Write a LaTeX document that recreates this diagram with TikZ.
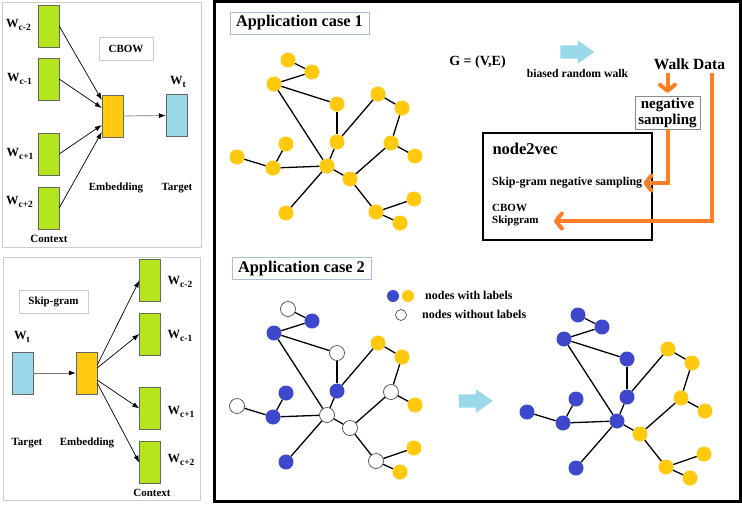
\documentclass[tikz,border=0pt]{standalone}
\usepackage{fontspec}
\setmainfont{Liberation Serif}
\usetikzlibrary{arrows.meta,shapes.arrows}

\definecolor{nodegold}{RGB}{255,201,14}
\definecolor{nodeblue}{RGB}{63,72,204}
\definecolor{wordgreen}{RGB}{181,230,29}
\definecolor{skyblue}{RGB}{153,217,234}
\definecolor{walkorange}{RGB}{255,127,39}
\definecolor{panelgray}{RGB}{205,205,205}
\definecolor{tagblue}{RGB}{170,190,215}

\newcommand\wsub[1]{W\raisebox{-2.5pt}{\fontsize{9.5}{9.5}\selectfont#1}}
\newcommand\graphnodes{1/288/60,2/312/72,3/274/84,4/337/104,5/378/94,6/402/108,7/337/142,8/391/143,9/415/156,10/286/144,11/237/157,12/273/168,13/327/166,14/350/179,15/286/213,16/376/212,17/414/199,18/400/223}
\newcommand\graphedges{1/2,2/3,3/4,3/13,4/7,7/13,7/5,5/6,6/8,8/9,8/14,13/14,10/12,11/12,12/13,13/15,14/16,16/17,16/18}

\tikzset{
  vec/.style={draw=black!60,minimum width=21pt,minimum height=42pt,inner sep=0pt},
  wlab/.style={font=\fontsize{12.5}{12.5}\selectfont\bfseries,inner sep=1pt},
  captext/.style={font=\fontsize{11}{11}\selectfont\bfseries,inner sep=1pt},
  tagbox/.style={draw=panelgray,font=\fontsize{11}{11}\selectfont\bfseries},
  casetag/.style={draw=tagblue,minimum width=139pt,minimum height=22pt,font=\fontsize{16.3}{16.3}\selectfont\bfseries},
  panel/.style={draw=panelgray,line width=0.8pt},
  ptr/.style={-{Latex[length=7pt,width=5pt,color=black]},line width=0.7pt},
  gnode/.style={circle,minimum size=15pt,inner sep=0pt},
  gld/.style={fill=nodegold},
  blu/.style={fill=nodeblue},
  unl/.style={fill=white,draw=black!70,line width=0.7pt},
  gedge/.style={line width=1.3pt},
  walk/.style={line width=4pt,walkorange,-{Straight Barb[length=6pt,width=15pt,round]}},
  fat/.style={single arrow,fill=skyblue,inner sep=0pt,text height=13pt,text depth=0pt,text width=0pt,minimum height=34pt,single arrow head extend=5pt,single arrow tip angle=70}
}

\begin{document}
\begin{tikzpicture}[x=1pt,y=-1pt]
\fill[white] (0,0) rectangle (742,504);
\useasboundingbox (0,0) rectangle (742,504);

% CBOW
\draw[panel] (2,2) rectangle (201,247);
\node[vec,fill=wordgreen] (cw1) at (48.5,26) {};
\node[vec,fill=wordgreen] (cw2) at (48.5,79) {};
\node[vec,fill=wordgreen] (cw3) at (48.5,154) {};
\node[vec,fill=wordgreen] (cw4) at (48.5,208) {};
\node[vec,fill=nodegold] (cemb) at (112.5,116) {};
\node[vec,fill=skyblue] (ctgt) at (176.5,115.5) {};
\node[wlab] (lcw1) at (18.5,25) {\wsub{c-2}};
\node[wlab] (lcw2) at (19.5,79) {\wsub{c-1}};
\node[wlab] (lcw3) at (20,154) {\wsub{c+1}};
\node[wlab] (lcw4) at (19.5,202) {\wsub{c+2}};
\node[wlab] (lct) at (178,82) {\wsub{t}};
\node[tagbox,minimum width=54pt,minimum height=23pt] (cbowtag) at (126,48.5) {CBOW};
\node[captext] (lcemb) at (116,188) {Embedding};
\node[captext] (lctgt) at (177,188) {Target};
\node[captext] (lcctx) at (49,239) {Context};
\draw[ptr] (cw1.east) -- ([yshift=16pt]cemb.west);
\draw[ptr] (cw2.east) -- ([yshift=8pt]cemb.west);
\draw[ptr] (cw3.east) -- ([yshift=-9pt]cemb.west);
\draw[ptr] (cw4.east) -- ([yshift=-16pt]cemb.west);
\draw[ptr,draw=black!55] (cemb.east) -- (ctgt.west);

% Skip-gram
\draw[panel] (3,257) rectangle (200,500);
\node[tagbox,minimum width=69pt,minimum height=23pt] (sgtag) at (53.5,301.5) {Skip-gram};
\node[vec,fill=skyblue] (stgt) at (22.5,373) {};
\node[vec,fill=nodegold] (semb) at (86.5,373) {};
\node[vec,fill=wordgreen] (sw1) at (150,280.5) {};
\node[vec,fill=wordgreen] (sw2) at (150,334) {};
\node[vec,fill=wordgreen] (sw3) at (150,408.5) {};
\node[vec,fill=wordgreen] (sw4) at (150,462.5) {};
\node[wlab] (lsw1) at (180,282) {\wsub{c-2}};
\node[wlab] (lsw2) at (180,336) {\wsub{c-1}};
\node[wlab] (lsw3) at (181,412) {\wsub{c+1}};
\node[wlab] (lsw4) at (181,460) {\wsub{c+2}};
\node[wlab] (lst) at (22,337) {\wsub{t}};
\node[captext] (lstgt) at (27,443) {Target};
\node[captext] (lsemb) at (87,443) {Embedding};
\node[captext] (lsctx) at (152,493) {Context};
\draw[ptr,draw=black!55] (stgt.east) -- (semb.west);
\draw[ptr] ([yshift=8pt]semb.east) -- (sw1.west);
\draw[ptr] ([yshift=5pt]semb.east) -- (sw2.west);
\draw[ptr] ([yshift=-7pt]semb.east) -- (sw3.west);
\draw[ptr] ([yshift=-10pt]semb.east) -- (sw4.west);

% applications
\draw[line width=3pt] (214.5,1.5) rectangle (740.5,501.5);
\node[casetag] (case1) at (299.5,23) {Application case 1};
\node[casetag] (case2) at (301.5,268.5) {Application case 2};

\foreach \i/\x/\y in \graphnodes
  \node[gnode,gld] (a\i) at (\x,\y) {};
\foreach \i/\s in {1/unl,2/blu,3/blu,4/unl,5/gld,6/gld,7/blu,8/unl,9/gld,10/blu,11/unl,12/blu,13/unl,14/unl,15/blu,16/unl,17/gld,18/gld}
  \node[gnode,\s] (b\i) at ([shift={(0,249)}]a\i.center) {};
\foreach \i/\s in {1/blu,2/blu,3/blu,4/blu,5/gld,6/gld,7/blu,8/gld,9/gld,10/blu,11/blu,12/blu,13/blu,14/gld,15/blu,16/gld,17/gld,18/gld}
  \node[gnode,\s] (c\i) at ([shift={(290,255)}]a\i.center) {};
\foreach \g in {a,b,c}
  \foreach \p/\q in \graphedges
    \draw[gedge] (\g\p) -- (\g\q);

\node[gnode,blu,minimum size=12pt] (legb) at (393,296) {};
\node[gnode,gld,minimum size=12pt] (legy) at (408,296) {};
\node[gnode,unl,minimum size=11pt] (legw) at (401,315) {};
\node[captext,anchor=west,font=\fontsize{12}{12}\selectfont\bfseries] (legl) at (424,295) {nodes with labels};
\node[captext,anchor=west,font=\fontsize{12}{12}\selectfont\bfseries] (legu) at (421,314) {nodes without labels};
\node[fat] (step2) at (471,401) {};

% node2vec
\node[font=\fontsize{14}{14}\selectfont\bfseries] (gve) at (477.5,62) {G = (V,E)};
\node[fat] (step1) at (572.5,52) {};
\node[captext,font=\fontsize{11.7}{11.7}\selectfont\bfseries] (brw) at (577.5,73) {biased random walk};
\node[font=\fontsize{15.5}{15.5}\selectfont\bfseries] (walkd) at (689.5,64) {Walk Data};
\node[draw=black!45,align=center,inner sep=1pt,minimum width=65pt,minimum height=33pt,font=\fontsize{15}{16}\selectfont\bfseries] (negs) at (667.5,112.5) {negative\\sampling};
\node[draw,line width=1.5pt,minimum width=169pt,minimum height=107pt] (n2v) at (567.5,186.5) {};
\node[anchor=west,font=\fontsize{16.5}{16.5}\selectfont\bfseries] (n2vt) at (489,149) {node2vec};
\node[captext,anchor=west,font=\fontsize{12}{12}\selectfont\bfseries] (sgns) at (491,183) {Skip-gram negative sampling};
\node[captext,anchor=west,font=\fontsize{11}{11}\selectfont\bfseries] (cbw) at (491,208) {CBOW};
\node[captext,anchor=west,font=\fontsize{11}{11}\selectfont\bfseries] (skg) at (491,221) {Skipgram};
\draw[walk] (negs.north |- walkd.south) -- ([yshift=3pt]negs.north);
\draw[walk] (negs.south) |- (sgns.east);
\draw[walk] ([xshift=22pt]walkd.south) |- ([xshift=14pt]skg.east);
\end{tikzpicture}
\end{document}
